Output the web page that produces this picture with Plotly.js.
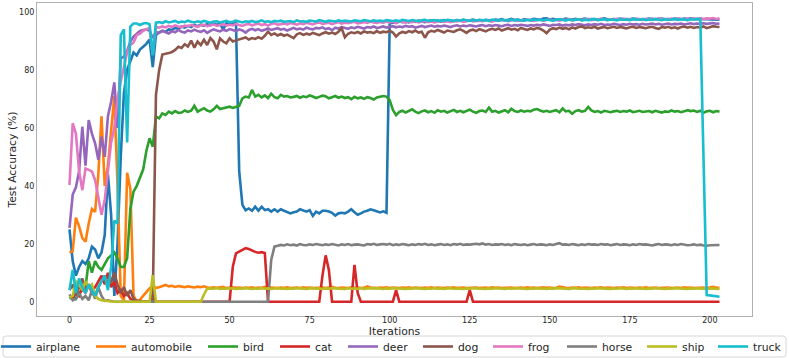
<!DOCTYPE html>
<html><head><meta charset="utf-8">
<script src="https://cdn.plot.ly/plotly-3.0.1.min.js"></script>
<style>html,body{margin:0;padding:0;background:#fff}#chart{width:789px;height:358px}</style>
</head><body><div id="chart"></div>
<script>
const classNames = ["airplane","automobile","bird","cat","deer","dog","frog","horse","ship","truck"];
const classColors = ["#1f77b4","#ff7f0e","#2ca02c","#d62728","#9467bd","#8c564b","#e377c2","#7f7f7f","#bcbd22","#17becf"];
const xTicks = [0,25,50,75,100,125,150,175,200];
const yTicks = [0,20,40,60,80,100];

const airplane = [25,14,9,12,14,13,15,19,18,15,17,23,44,30,2,20,50,72,80,83,86,85,87,88,89,90.5,81,92,
93.0,93.5,93.2,94.0,93.8,94.5,94.2,95.0,94.6,95.2,94.8,95.5,95.1,95.6,95.3,95.8,95.4,96.0,95.6,95.9,94.0,96.1,95.8,96.0,96.2,
45,33.4,
31.6,32.2,31.4,32.8,31.4,32.8,31.6,31.9,31.1,31.9,31.1,31.9,31.4,30.9,30.5,30.9,31.1,31.9,31.4,31.1,31.6,29.6,31.1,30.5,31.4,31.4,31.1,30.7,29.7,30.5,30.7,30.5,31.1,31.9,30.9,30.0,30.5,31.1,31.4,31.9,31.6,31.1,30.8,31.2,30.7,
96.0,96.4,96.2,96.7,96.5,96.8,96.4,96.9,96.6,97.0,
96.7,96.5,96.9,97.1,96.8,97.0,96.7,97.2,96.9,97.1,
96.8,97.2,97.0,97.3,96.9,97.1,97.4,97.0,97.2,96.9,
97.3,97.1,97.0,97.4,97.2,97.5,97.1,97.3,97.6,97.2,
97.4,97.1,97.5,97.3,97.2,97.6,97.4,97.3,97.7,97.8,
97.4,97.6,97.3,97.5,97.4,97.7,97.5,97.3,97.6,97.4,
97.5,97.7,97.4,97.6,97.5,97.3,97.6,97.8,97.5,97.4,
97.6,97.5,97.7,97.4,97.6,97.5,97.7,97.6,97.4,97.6,
97.5,97.7,97.6,97.4,97.6,97.7,97.5,97.6,97.4,97.7,
97.6,97.5,97.7,97.6,97.8,97.5,97.6,97.7,97.5,97.6,
97.4,97.5,97.3,97.4];

const automobile = [17,17.5,29,26,22,20.7,27,32,31,44,64,40,47,58,71,40,2,0.5,44.5,39,2,0.3,0.6,2,3.5,
4.6,5.2,4.8,5.0,5.5,5.8,5.3,5.5,5.1,5.4,
5.2,5.0,5.3,5.1,4.9,5.2,5.0,5.3,4.9,4.8,
5.0,4.8,4.9,5.1,4.7,4.9,5.0,4.8,4.9,4.7,
4.9,4.8,5.0,4.7,4.9,4.8,5.1,4.7,4.9,4.8,
4.7,4.9,4.8,5.0,4.7,4.8,4.9,4.7,5.0,4.8,
4.9,4.7,4.8,5.0,4.9,4.7,4.8,5.1,4.8,4.7,
4.9,4.8,4.7,5.0,4.8,4.9,4.7,4.8,5.3,4.9,
4.8,4.7,4.9,4.8,5.0,4.7,4.9,4.8,4.7,4.9,
4.8,5.0,4.7,4.9,4.8,4.7,4.9,4.8,5.0,4.7,
4.9,4.8,4.7,4.9,4.8,5.0,4.7,4.8,4.9,4.7,
4.8,5.0,4.9,4.7,4.8,4.9,4.7,5.0,4.8,4.9,
4.7,4.8,5.0,4.9,4.7,4.8,4.9,4.7,5.0,4.8,
4.9,4.7,4.8,5.0,4.8,4.9,4.7,4.8,5.2,4.9,
4.8,4.7,4.9,4.8,5.0,4.7,4.9,4.8,4.7,4.9,
4.8,5.0,4.7,4.9,4.8,4.7,4.9,4.8,5.0,4.7,
4.9,4.8,4.7,4.9,4.8,5.0,4.7,4.8,4.9,4.7,
4.8,5.0,4.9,4.7,4.8,4.9,4.7,5.0,4.8,4.9,
4.7,4.8,5.0,4.9,4.7,4.8,5.1,4.9,4.8];

const bird = [1,2,1,3,4,5,14,10,14,12,11,13,15,16,17,15,12,12,15,32,38,40,43,45.6,52,56.4,53.5,63.9,
63.3,65.0,64.5,65.6,65.0,65.8,65.2,65.3,66.0,65.5,65.9,67.6,65.6,66.2,66.8,66.0,65.6,66.4,67.6,66.5,66.8,67.1,67.3,66.9,67.3,
67.6,70.2,70.8,70.5,73.1,70.8,71.4,70.5,71.2,70.3,71.8,70.6,70.2,71.4,70.8,71.0,70.5,70.7,71.0,70.4,70.9,70.6,71.2,70.8,70.3,70.7,71.1,70.9,70.2,70.6,71.0,70.4,70.8,70.3,70.6,69.9,70.7,70.2,70.5,70.0,70.6,70.3,69.8,70.5,70.8,71.0,70.8,69.6,
66.2,64.4,65.5,65.9,65.3,65.8,66.4,65.6,65.1,65.7,
66.0,65.4,65.8,65.2,66.1,65.6,65.9,65.3,65.7,66.2,
65.5,65.9,65.4,65.8,66.3,65.6,65.2,65.8,66.0,65.5,
67.0,65.6,65.9,65.3,65.7,66.1,65.4,66.6,65.8,65.5,
66.0,65.6,65.9,65.7,66.3,66.5,66.0,65.6,65.9,65.5,
65.8,66.1,65.4,66.7,65.7,65.9,64.9,65.8,66.1,65.6,
65.9,67.2,66.0,65.5,65.8,65.3,65.9,65.6,65.4,65.7,
65.9,65.5,65.8,65.6,66.0,65.4,65.7,65.9,65.5,65.6,
65.8,65.4,65.9,65.6,65.3,65.7,65.5,66.0,65.6,65.8,
65.4,65.7,66.1,65.8,66.0,65.5,65.9,65.2,65.7,65.9,
65.4,65.8,65.6];

const cat = [2,1.5,3,2,5,3,6,4,5,7,9,6,10,5,7,3,4,2,3,1,0.5,0,0.3,0,0,0,2.5,
0,0,0,0,0,0,0,0,0,0,0,0,0,0,0,0,0,0,0,0,0,0,0,0,
12.1,16.7,17.3,17.9,18.5,18.2,17.6,17.2,16.9,17.1,16.8,
0,0,0,0,0,0,0,0,0,0,0,0,0,0,0,0,0,
9,16,11,
0,0,0,0,0,0,0,
12.7,3,
0,0,0,0,0,0,0,0,0,0,0,
4,
0,0,0,0,0,0,0,0,0,0,0,0,0,0,0,0,0,0,0,0,0,0,
4,
0,0,0,0,0,0,0,0,0,0,0,0,0,0,0,0,0,0,0,0,0,0,0,0,0,0,0,0,0,0,0,0,0,0,0,0,0,0,0,0,
0,0,0,0,0,0,0,0,0,0,0,0,0,0,0,0,0,0,0,0,0,0,0,0,0,0,0,0,0,0,0,0,0,0,0,0,0,0];

const deer = [25.5,37,39.5,45,60.4,47,62.7,58,54.7,49,57,50,64,69,75.7,60,84,84.6,86.6,89.8,91.5,92.6,93.5,93.8,94,93.5,91,93,
92.8,93.5,93.1,92.6,93.4,93.0,93.8,93.2,92.9,93.6,
93.3,93.9,93.4,93.1,93.7,92.8,93.5,94.0,93.6,93.3,
93.9,93.5,94.1,93.7,93.4,94.0,93.6,92.9,93.8,94.2,
93.7,94.1,93.5,93.9,94.3,93.8,94.0,94.4,93.9,94.2,
93.6,94.1,94.5,94.0,94.3,93.9,94.6,94.2,94.0,94.5,
94.3,94.7,94.1,94.4,93.7,94.6,94.3,94.8,94.5,94.2,
94.7,94.4,94.9,94.5,94.3,94.8,94.6,95.0,94.4,94.7,
95.0,94.6,94.9,95.1,94.7,95.0,94.8,95.2,94.9,95.1,
94.6,95.0,95.2,94.8,95.1,95.3,94.9,95.2,95.0,95.3,
95.1,94.8,95.2,95.4,95.0,95.3,95.1,95.4,95.2,95.0,
95.3,95.5,95.1,95.4,95.2,95.5,95.3,95.1,95.4,95.6,
95.2,95.5,95.3,95.6,95.4,95.2,95.5,95.3,95.6,95.4,
95.7,95.4,95.2,95.6,95.5,95.7,95.3,95.6,95.4,95.7,
95.5,95.8,95.6,95.4,95.7,95.5,95.8,95.6,95.9,95.5,
95.7,95.6,95.9,95.7,95.5,95.8,95.6,95.9,95.7,95.8,
95.6,95.9,95.7,95.8,96.0,95.7,95.9,95.6,95.8,96.0,
95.7,95.9,95.8,96.0,95.7,95.9,96.1,95.8,96.0,95.9,
96.1,95.9,96.0,96.2,95.9,96.0];

const dog = [4,6,2,5,8,4,6,3,2,5,7,9,6,7,10,6,3,5,2,4,1,0.3,0,0,0,0,0,
71.4,80,85.3,85.5,85.8,86.2,86.9,88,87.6,88.9,88.1,90.1,87.7,89.8,88.6,90.4,88.6,91,89.8,87.1,90.9,89.8,89.2,90.9,89.8,90.2,
90.6,90.9,91.2,90.5,91.0,90.7,91.3,90.8,91.8,93.2,
92.1,92.6,91.9,92.4,91.8,92.2,91.6,91.0,92.3,92.7,
92.1,92.5,92.2,92.8,92.4,92.0,92.6,93.0,92.5,92.9,
92.4,93.2,94.4,91.3,92.5,93.0,92.7,93.1,92.6,93.3,
92.9,93.1,92.7,93.4,92.8,93.2,93.0,93.5,92.9,91.5,
92.6,93.1,92.8,93.4,93.0,93.6,92.9,93.2,91.1,93.0,
93.5,93.2,93.8,93.3,92.9,93.6,93.4,93.1,93.7,94.0,
93.5,92.8,93.6,93.9,93.4,94.1,93.7,93.3,93.9,94.2,
93.8,94.3,93.6,94.0,94.4,93.9,94.2,93.7,94.5,94.1,
93.8,94.3,94.0,94.5,94.2,93.6,92.7,93.9,94.4,94.1,
94.6,94.2,94.5,94.0,94.7,94.3,94.8,95.0,94.4,94.7,
94.5,94.9,94.3,94.6,94.8,94.4,94.7,94.9,94.5,94.8,
94.6,94.3,94.7,94.9,94.5,94.8,94.6,94.4,94.7,94.9,
94.5,94.2,94.8,94.6,94.9,94.4,94.7,94.3,94.8,95.0,
94.6,94.9,94.5,94.8,94.6,95.0,94.4,94.7,95.1,94.9,94.8];

const frog = [40.3,61.6,58,45,38.5,46,45.5,45,42,36,30,35,45,55,60,70,76,81,86,88.6,89.5,92,92.5,93.5,94,94.5,85.2,94.9,
94.6,95.0,94.7,95.2,94.9,95.4,95.0,94.8,95.3,95.1,
95.5,95.2,94.9,95.4,95.6,95.1,95.3,95.7,95.2,95.5,
95.8,95.3,95.6,95.4,95.9,95.5,95.2,95.7,95.9,95.4,
95.6,96.0,95.5,95.8,95.3,95.9,96.1,95.6,95.8,96.0,
95.7,96.2,95.9,95.6,96.1,95.8,96.3,96.0,95.7,96.2,
96.4,95.9,96.1,96.3,95.8,96.2,96.5,96.0,96.3,96.1,
96.4,96.6,96.1,96.3,96.5,96.2,96.7,96.4,96.2,96.5,
96.3,96.7,96.4,96.6,96.2,96.8,96.5,96.3,96.7,96.5,
96.8,96.4,96.6,96.9,96.5,96.7,96.4,96.8,97.0,96.6,
96.8,96.5,96.9,96.7,97.0,96.6,96.8,97.1,96.7,96.9,
97.0,96.8,97.2,96.9,96.7,97.1,96.9,97.2,97.0,96.8,
97.1,97.3,96.9,97.2,97.0,97.3,97.1,96.9,97.2,97.4,
97.0,97.2,97.4,97.1,97.3,97.0,97.4,97.2,97.5,97.1,
97.3,97.5,97.2,97.4,97.6,97.2,97.4,97.3,97.6,97.4,
97.2,97.5,97.3,97.6,97.4,97.7,97.3,97.5,97.4,97.7,
97.5,97.3,97.6,97.4,97.7,97.5,97.8,97.4,97.6,97.5,
97.7,97.5,97.8,97.6,97.4,97.7,97.6,97.8,97.5,97.7,
97.6,97.8,97.7,97.9,97.6,97.8];

const horse = [2.5,0.5,1,3,1,2,0.5,4,1,5,2,0.3,0.5,0.2,0,
0,0,0,0,0,0,0,0,0,0,0,0,0,0,0,0,0,0,0,0,0,0,0,0,0,0,0,0,0,0,0,0,0,0,0,0,0,0,0,0,0,0,0,0,0,0,0,0,
14.4,19.0,
19.3,19.6,19.4,19.8,19.5,19.7,19.4,19.9,19.6,19.5,
19.8,19.6,19.9,19.7,19.5,19.8,19.6,19.9,19.7,19.4,
19.8,19.6,19.9,19.5,19.7,19.8,19.6,19.4,19.9,19.7,
20.0,19.6,19.8,19.9,19.7,20.0,19.5,19.8,19.6,19.9,
19.7,19.5,19.8,19.6,19.9,19.7,20.0,19.6,19.8,19.5,
19.7,19.9,19.6,19.8,19.5,19.9,19.7,20.0,19.6,19.8,
19.7,19.9,20.0,19.8,20.1,19.7,19.9,19.6,19.8,19.7,
19.9,19.6,19.8,19.5,19.9,19.7,19.6,19.8,19.5,19.7,
19.9,19.6,19.8,19.7,19.5,19.8,19.6,19.9,20.2,19.7,
19.8,19.6,19.9,19.7,19.5,19.8,19.6,19.9,19.7,19.8,
19.6,19.9,19.7,19.8,19.5,19.7,19.9,19.6,19.8,19.7,
19.5,19.8,19.6,19.9,19.7,19.8,19.6,19.4,19.7,19.9,
19.6,19.8,19.7,19.5,19.8,19.6,19.9,19.7,19.5,19.6,
19.8,19.5,19.7,19.4,19.3,19.5,19.6,19.7,19.6];

const ship = [1.5,2,7,6,4,7,5,6,2,1,0.5,0.3,0.2,0.1,
0,0,0,0,0,0,0,0,0,0,0,0,
9.2,
0,0,0,0,0,0,0,0,0,0,0,0,0,0,0,
2.5,4.5,
4.6,4.5,4.7,4.4,4.6,4.5,4.7,4.6,4.4,4.6,
4.5,4.7,4.6,4.4,4.6,4.5,4.7,4.5,4.6,4.4,
4.6,4.7,4.5,4.6,4.4,4.6,4.5,4.7,4.6,4.5,
4.4,4.6,4.7,4.5,4.6,4.4,4.6,4.5,4.7,4.6,
4.5,4.6,4.4,4.7,4.5,4.6,4.5,4.7,4.4,4.6,
4.5,4.6,4.7,4.5,4.4,4.6,4.5,4.7,4.6,4.5,
4.6,4.4,4.6,4.5,4.7,4.6,4.5,4.4,4.6,4.5,
4.7,4.5,4.6,4.4,4.6,4.7,4.5,4.6,4.5,4.4,
4.6,4.5,4.7,4.6,4.5,4.6,4.4,4.6,4.5,4.7,
4.6,4.5,4.4,4.6,4.5,4.7,4.6,4.5,4.6,4.4,
4.6,4.5,4.7,4.5,4.6,4.4,4.6,4.5,4.7,4.6,
4.5,4.6,4.4,4.6,4.7,4.5,4.6,4.5,4.4,4.6,
4.5,4.7,4.6,4.5,4.6,4.4,4.6,4.5,4.7,4.6,
4.4,4.6,4.5,4.7,4.5,4.6,4.4,4.6,4.5,4.7,
4.6,4.5,4.4,4.6,4.5,4.7,4.6,4.5,4.6,4.4,
4.6,4.5,4.7,4.5,4.6,4.4,4.6,4.5,4.3,4.4];

const truck = [4,11,3,8,5,3,6,4,2,5,7,9,4,12,28,27,92,94,55,95,96,96,95.5,96,96.2,95.8,85,96.3,
96.5,96.2,96.8,96.4,96.6,96.9,96.3,96.7,96.5,97.0,
96.6,96.4,96.8,96.5,96.9,96.6,96.3,96.7,96.8,96.4,
96.7,96.9,96.5,96.6,97.0,96.7,96.4,96.8,96.6,96.9,
96.5,96.7,97.1,96.6,96.8,96.5,96.9,96.7,97.0,96.6,
96.8,96.9,96.5,97.1,96.7,96.8,96.6,97.0,96.9,96.7,
97.2,96.8,96.6,97.0,96.9,96.7,97.1,96.8,97.0,96.9,
96.7,97.1,96.9,96.8,97.2,97.0,96.8,97.1,96.9,97.0,
96.8,97.2,97.0,96.9,97.1,96.8,97.3,97.0,96.9,97.2,
97.0,96.8,97.1,97.3,96.9,97.0,97.2,96.9,97.1,97.0,
97.3,97.1,96.9,97.2,97.0,97.4,97.1,96.9,97.2,97.0,
97.3,97.1,97.2,96.9,97.4,97.1,97.0,97.3,97.2,97.0,
97.4,97.1,97.3,97.2,97.0,97.3,97.1,97.4,97.2,97.3,
97.1,97.4,97.2,97.0,97.3,97.5,97.2,97.1,97.4,97.2,
97.3,97.5,97.1,97.3,97.2,97.4,97.6,97.2,97.3,97.5,
97.2,97.4,97.3,97.1,97.5,97.3,97.4,97.2,97.6,97.3,
97.4,97.5,97.2,97.4,97.3,97.6,97.4,97.2,97.5,97.3,
97.4,97.6,97.3,97.5,97.4,97.2,97.5,97.4,97.6,97.4,
50,2.3,2.2,2.0,1.9,1.7];

const seriesValues = [airplane,automobile,bird,cat,deer,dog,frog,horse,ship,truck];

// pixel x where each legend entry's text begins (layout only)
const legendTextPx = [36,131,243,315,383,458,528,602,682,753];
const plotLeft = 37, plotWidth = 715, plotTop = 3, plotHeight = 313;

const traces = seriesValues.map(function(vals, k){
  const xs = vals.map(function(_, i){ return i; });
  return {
    x: xs, y: vals, type: 'scatter', mode: 'lines', name: classNames[k],
    legend: k === 0 ? 'legend' : 'legend' + (k + 1),
    line: {color: classColors[k], width: 2.6}, hoverinfo: 'skip'
  };
});

const font = 'DejaVu Sans, sans-serif';
const legendY = (plotTop + plotHeight - 332) / plotHeight;

const layout = {
  width: 789, height: 358,
  margin: {l: 37, r: 37, t: 3, b: 42, autoexpand: false},
  paper_bgcolor: '#fff', plot_bgcolor: '#fff',
  font: {family: font, color: '#262626'},
  showlegend: true,
  xaxis: {
    range: [-10.15, 213.15], tickvals: xTicks, ticktext: xTicks.map(String),
    showgrid: false, zeroline: false, showline: true, mirror: true,
    linecolor: '#b0b0b0', linewidth: 1, ticks: '', ticklabelstandoff: -4,
    tickfont: {family: font, size: 8, color: '#262626'},
    title: {text: 'Iterations', font: {family: font, size: 10.8, color: '#262626'}, standoff: 0},
    automargin: false
  },
  yaxis: {
    range: [-4.93, 103.1], tickvals: yTicks, ticktext: yTicks.map(String),
    showgrid: false, zeroline: false, showline: true, mirror: true,
    linecolor: '#b0b0b0', linewidth: 1, ticks: '',
    tickfont: {family: font, size: 8, color: '#262626'},
    title: {text: 'Test Accuracy (%)', font: {family: font, size: 10.8, color: '#262626'}, standoff: 0},
    automargin: false
  },
  shapes: [(function(){
    const x0 = (3 - plotLeft) / plotWidth, x1 = (786 - plotLeft) / plotWidth;
    const y0 = (plotTop + plotHeight - 336) / plotHeight, y1 = (plotTop + plotHeight - 357) / plotHeight;
    const rx = 3 / plotWidth, ry = 3 / plotHeight;
    return {
      type: 'path', xref: 'paper', yref: 'paper', layer: 'below',
      path: 'M' + (x0 + rx) + ',' + y0 + ' L' + (x1 - rx) + ',' + y0 +
            ' Q' + x1 + ',' + y0 + ' ' + x1 + ',' + (y0 - ry) +
            ' L' + x1 + ',' + (y1 + ry) + ' Q' + x1 + ',' + y1 + ' ' + (x1 - rx) + ',' + y1 +
            ' L' + (x0 + rx) + ',' + y1 + ' Q' + x0 + ',' + y1 + ' ' + x0 + ',' + (y1 + ry) +
            ' L' + x0 + ',' + (y0 - ry) + ' Q' + x0 + ',' + y0 + ' ' + (x0 + rx) + ',' + y0 + ' Z',
      line: {color: '#d6d6d6', width: 1}, fillcolor: '#ffffff'
    };
  })()]
};

classNames.forEach(function(_, k){
  const key = k === 0 ? 'legend' : 'legend' + (k + 1);
  layout[key] = {
    orientation: 'h', xanchor: 'left', yanchor: 'top',
    x: (legendTextPx[k] - 40 - plotLeft) / plotWidth, y: legendY,
    font: {family: font, size: 10.8, color: '#262626'},
    borderwidth: 0, bgcolor: 'rgba(0,0,0,0)'
  };
});

Plotly.newPlot('chart', traces, layout, {displayModeBar: false, staticPlot: true});
</script>
</body></html>
